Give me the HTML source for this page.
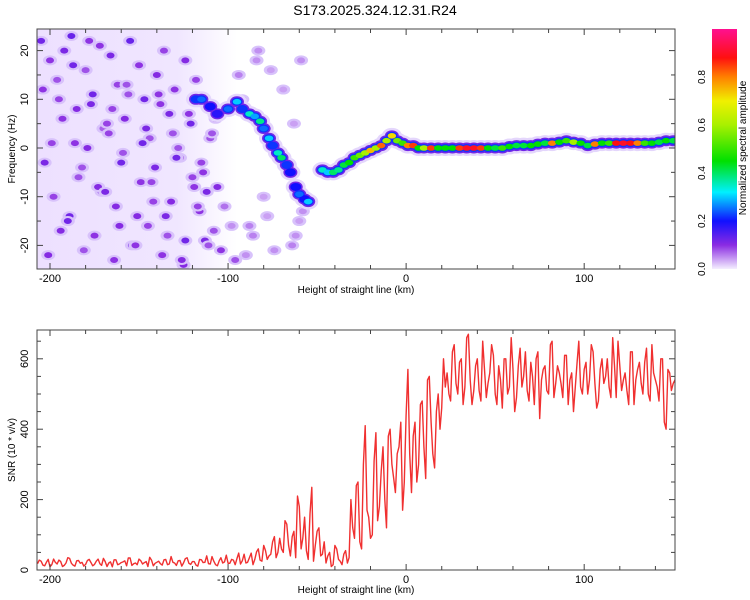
<!DOCTYPE html>
<html><head><meta charset="utf-8"><style>
body{margin:0;background:#fff;}
svg{display:block;font-family:"Liberation Sans",sans-serif;}
text{fill:#000;}
</style></head><body>
<svg id="root" width="750" height="600" xmlns="http://www.w3.org/2000/svg">
<defs>
<linearGradient id="cbar" x1="0" y1="1" x2="0" y2="0">
<stop offset="0" stop-color="#f4eeff"/><stop offset="0.1" stop-color="#8a2be2"/><stop offset="0.2" stop-color="#1010ff"/><stop offset="0.32" stop-color="#00f0ff"/><stop offset="0.45" stop-color="#00e000"/><stop offset="0.6" stop-color="#a8f000"/><stop offset="0.7" stop-color="#f0f000"/><stop offset="0.8" stop-color="#ff8000"/><stop offset="0.88" stop-color="#ff1010"/><stop offset="1" stop-color="#ff1090"/>
</linearGradient>
<linearGradient id="noiseBg" x1="0" y1="0" x2="1" y2="0">
<stop offset="0" stop-color="#ede0ff"/><stop offset="0.7" stop-color="#f0e6ff"/><stop offset="1" stop-color="#ffffff"/>
</linearGradient>
<clipPath id="clipTop"><rect x="37" y="29" width="638" height="240"/></clipPath>
<clipPath id="clipBot"><rect x="37" y="330" width="638" height="240"/></clipPath>
</defs>
<text x="375" y="15" text-anchor="middle" font-size="14">S173.2025.324.12.31.R24</text>
<g id="topPanel"></g>
<g id="botPanel"></g>
<g id="cb"></g>
</svg>
<script>
// ---- data ----
const ridgeX = [-118,-115,-110,-106,-100,-95,-92,-88,-85,-82,-80,-77,-75,-72,-70,-67,-65,-62,-60,-57,-55,-47,-44,-41,-38,-35,-32,-29,-26,-23,-20,-17,-14,-11,-8,-5,-2,1,4,7,10,14,18,22,26,30,34,38,42,46,50,54,58,62,66,70,74,78,82,86,90,94,98,102,106,110,114,118,122,126,130,134,138,142,146,150];
const ridgeF = [10,10,8.5,7,8,9.5,8,7,6.5,5.5,4,2,0.5,-1,-2,-3.5,-5,-8,-9.5,-10.5,-11,-4.5,-5,-5,-4.5,-3.5,-3,-2,-1.5,-1,-0.5,0,0.5,1.5,2.5,1.5,1,0.5,0.5,0,0,0,0,0,0,0,0,0,0,0,0,0,0.3,0.5,0.5,0.5,0.8,1,1,1.2,1.5,1.2,1,0.5,0.8,1,1,1,1,1,1,1,1,1.2,1.5,1.5];
const ridgeA = [0.22,0.25,0.2,0.18,0.25,0.3,0.22,0.35,0.28,0.38,0.25,0.3,0.22,0.35,0.4,0.22,0.2,0.2,0.25,0.2,0.3,0.35,0.3,0.4,0.38,0.42,0.45,0.5,0.55,0.6,0.75,0.6,0.82,0.6,0.72,0.55,0.5,0.8,0.85,0.45,0.6,0.85,0.45,0.45,0.45,0.85,0.9,0.9,0.85,0.45,0.42,0.5,0.45,0.42,0.42,0.45,0.45,0.42,0.8,0.45,0.5,0.6,0.45,0.42,0.8,0.45,0.5,0.88,0.9,0.88,0.8,0.5,0.45,0.42,0.45,0.42];
const blobX = [-205,-200,-196,-192,-188,-185,-180,-176,-172,-170,-166,-162,-158,-155,-150,-147,-144,-140,-136,-133,-130,-127,-124,-121,-118,-114,-110,-106,-203,-198,-193,-189,-184,-179,-175,-171,-167,-163,-159,-154,-149,-145,-141,-137,-132,-128,-124,-120,-116,-112,-108,-104,-201,-195,-190,-186,-181,-177,-173,-168,-164,-160,-156,-151,-146,-142,-138,-134,-129,-125,-122,-117,-113,-109,-204,-199,-194,-187,-182,-178,-169,-165,-161,-157,-152,-148,-143,-139,-135,-131,-126,-119,-115,-111,-107,-102,-98,-94,-90,-86,-83,-78,-74,-69,-64,-62,-60,-58,-63,-59,-96,-92,-88,-84,-80,-76];
const blobF = [22,18,14,20,23,8,16,11,21,4,19,13,6,22,17,10,2,15,20,7,12,-2,18,5,14,-5,2,-8,-3,-10,6,-14,-6,0,-18,-9,3,-12,-1,-20,-7,-16,-4,-22,-11,0,-19,-6,-13,-9,-17,-21,-22,10,-15,1,-21,9,-8,5,-23,-3,11,-14,4,-11,9,-18,-2,-24,7,-12,-19,3,12,1,-17,17,-4,22,-9,8,-16,13,-20,1,-7,11,-14,3,-23,-8,-3,-20,6,-12,-16,15,-22,-18,20,-14,-21,12,-20,-18,-15,-13,5,18,-23,10,-16,18,-10,16,-19,22];
const blobA = [0.15,0.12,0.1,0.14,0.16,0.13,0.1,0.15,0.12,0.09,0.14,0.11,0.13,0.16,0.12,0.15,0.1,0.13,0.11,0.14,0.12,0.1,0.13,0.15,0.11,0.12,0.1,0.13,0.14,0.11,0.12,0.15,0.1,0.13,0.12,0.14,0.11,0.13,0.1,0.15,0.12,0.11,0.14,0.12,0.13,0.1,0.15,0.11,0.12,0.14,0.1,0.12,0.13,0.11,0.15,0.12,0.1,0.14,0.13,0.11,0.12,0.15,0.1,0.13,0.14,0.11,0.12,0.1,0.15,0.13,0.12,0.11,0.14,0.1,0.12,0.11,0.13,0.15,0.1,0.12,0.14,0.11,0.13,0.1,0.12,0.15,0.11,0.12,0.14,0.1,0.13,0.12,0.11,0.1,0.12,0.08,0.06,0.07,0.06,0.07,0.06,0.05,0.06,0.05,0.07,0.06,0.05,0.06,0.05,0.06,0.1,0.08,0.07,0.06,0.05,0.05];
const snrStart = -207, snrStep = 2;
// SNR at even offsets (-207, -205, ...)
const snrValuesA = [18,25,12,30,15,22,28,10,20,33,14,26,19,11,27,21,16,31,13,24,20,9,29,17,23,12,34,18,15,26,21,10,28,19,25,14,30,17,22,13,27,20,35,16,24,11,29,22,18,38,15,26,20,42,19,28,33,17,45,
22,48,30,60,25,55,40,80,35,
90,50,130,40,110,210,60,150,30,235,70,120,45,
20,50,15,60,25,45,20,
200,90,250,60,410,150,100,390,
180,350,120,400,260,330,420,250,570,
220,420,300,480,260,550,330,450,400,600,
560,480,640,500,600,520,670,470,580,510,650,490,560,610,470,540,600,500,660,450,580,520,620,480,550,600,430,570,510,640,490,580,530,610,470,560,520,650,500,590,540,620,460,570,530,600,490,580,650,510,560,470,620,540,590,500,630,480,560,520,600,420,570,510,540];
// SNR at odd offsets (-206, -204, ...)
const snrValuesB = [28,14,22,9,31,17,24,13,35,19,11,27,22,16,30,12,25,18,33,10,23,29,15,21,26,34,13,20,31,17,24,36,12,22,18,29,15,38,20,26,11,32,19,24,14,30,21,40,17,25,12,35,23,19,30,15,48,26,20,
35,15,52,28,70,30,45,95,50,
60,140,70,95,35,180,90,55,160,25,110,40,80,
40,10,70,30,15,55,35,
120,240,80,300,170,90,310,140,
280,200,380,300,220,350,170,440,330,
380,250,470,350,540,420,290,500,460,520,
500,620,530,590,470,660,540,510,600,480,570,530,640,500,580,460,600,520,570,490,630,550,510,590,470,620,540,580,500,650,530,560,490,610,540,450,590,520,570,500,640,530,480,600,550,520,660,490,580,540,510,620,470,570,530,590,500,640,540,480,600,400,560,530,580];
const xTicks = [-200,-100,0,100];
const fTicks = [20,10,0,-10,-20];
const snrTicks = [0,200,400,600];
const cbTicks = [0,0.2,0.4,0.6,0.8];

// ---- scales ----
const X0=37,X1=675, xMin=-207.3, xMax=151;
const xs = v => X0 + (v-xMin)/(xMax-xMin)*(X1-X0);
const fy = f => 148 - f*4.87;
const sy = s => 570 - s*0.352;
const NS="http://www.w3.org/2000/svg";
function mk(tag, attrs, parent){const e=document.createElementNS(NS,tag);for(const k in attrs)e.setAttribute(k,attrs[k]);parent.appendChild(e);return e;}
const stops=[[0,[244,238,255]],[0.1,[138,43,226]],[0.2,[16,16,255]],[0.32,[0,240,255]],[0.45,[0,224,0]],[0.6,[168,240,0]],[0.7,[240,240,0]],[0.8,[255,128,0]],[0.88,[255,16,16]],[1,[255,16,144]]];
function cmap(a){for(let i=1;i<stops.length;i++){if(a<=stops[i][0]){const t=(a-stops[i-1][0])/(stops[i][0]-stops[i-1][0]);const c=stops[i-1][1].map((v,j)=>Math.round(v+(stops[i][1][j]-v)*t));return `rgb(${c})`;}}return 'rgb(255,16,144)';}

// ---- top panel ----
const topG=document.getElementById('topPanel');
const plotT=mk('g',{'clip-path':'url(#clipTop)'},topG);


mk('rect',{x:xs(-207),y:29,width:xs(-95)-xs(-207),height:240,fill:'url(#noiseBg)'},plotT);
for(let i=0;i<blobX.length;i++){
  const e=mk('ellipse',{cx:xs(blobX[i]),cy:fy(blobF[i]),rx:7,ry:5,fill:'#d8c2fb'},plotT);
  
  
  const c=mk('ellipse',{cx:xs(blobX[i]),cy:fy(blobF[i]),rx:4,ry:3,fill:cmap(blobA[i]*0.8)},plotT);
  
  
}
const layers=[['halo',10,8],['outer',7,5.5],['mid',5.5,4],['core',4.2,2.8]];
layers.forEach(([k,rx,ry])=>{
  for(let i=0;i<ridgeX.length;i++){
    const a=ridgeA[i];
    const fill = k==='halo' ? '#e4d6fc' : k==='outer' ? cmap(0.12) : k==='mid' ? cmap(Math.min(a,0.22)) : cmap(a);
    const e=mk('ellipse',{cx:xs(ridgeX[i]),cy:fy(ridgeF[i]),rx:rx,ry:ry,fill:fill},plotT);
    
    
  }
});
mk('rect',{x:37,y:29,width:638,height:240,fill:'none',stroke:'#444',"stroke-width":1},topG);
xTicks.forEach(t=>{const x=xs(t);
  const l=mk('text',{x:x,y:282,'text-anchor':'middle','font-size':11},topG);l.textContent=t;
  });
for(let t=-200;t<=150;t+=20){const x=xs(t);const L=(t%100===0)?6:4;
  mk('line',{x1:x,x2:x,y1:269,y2:269-L,stroke:'#444'},topG);mk('line',{x1:x,x2:x,y1:29,y2:29+L,stroke:'#444'},topG);}
fTicks.forEach(t=>{const y=fy(t);
  const l=mk('text',{x:0,y:0,'text-anchor':'middle','font-size':11,transform:`translate(28,${y}) rotate(-90)`},topG);l.textContent=t;
  });
for(let t=-20;t<=20;t+=5){const y=fy(t);const L=(t%10===0)?6:4;
  mk('line',{x1:37,x2:37+L,y1:y,y2:y,stroke:'#444'},topG);mk('line',{x1:675,x2:675-L,y1:y,y2:y,stroke:'#444'},topG);}
let t1=mk('text',{x:356,y:293,'text-anchor':'middle','font-size':10},topG);t1.textContent='Height of straight line (km)';

let t2=mk('text',{x:0,y:0,'text-anchor':'middle','font-size':10,transform:'translate(15,149) rotate(-90)'},topG);t2.textContent='Frequency (Hz)';


// ---- colorbar ----
const cb=document.getElementById('cb');
mk('rect',{x:712,y:29,width:25,height:240,fill:'url(#cbar)'},cb);
cbTicks.forEach(t=>{const y=269-t*240;
  const l=mk('text',{x:0,y:0,'text-anchor':'middle','font-size':10,transform:`translate(705,${y}) rotate(-90)`},cb);l.textContent=t.toFixed(1);
  });
let t3=mk('text',{x:0,y:0,'text-anchor':'middle','font-size':10,transform:'translate(746,148) rotate(-90)'},cb);t3.textContent='Normalized spectral amplitude';


// ---- bottom panel ----
const botG=document.getElementById('botPanel');
const plotB=mk('g',{'clip-path':'url(#clipBot)'},botG);
const merged=[];
for(let i=0;i<snrValuesA.length;i++){
  merged.push(`${xs(snrStart+i*snrStep).toFixed(1)},${sy(snrValuesA[i]).toFixed(1)}`);
  merged.push(`${xs(snrStart+1+i*snrStep).toFixed(1)},${sy(snrValuesB[i]).toFixed(1)}`);
}
const pl=mk('polyline',{points:merged.join(' '),fill:'none',stroke:'#f03030','stroke-width':1.4,'stroke-linejoin':'round'},plotB);


mk('rect',{x:37,y:330,width:638,height:240,fill:'none',stroke:'#444'},botG);
xTicks.forEach(t=>{const x=xs(t);
  const l=mk('text',{x:x,y:583,'text-anchor':'middle','font-size':11},botG);l.textContent=t;
  });
for(let t=-200;t<=150;t+=20){const x=xs(t);const L=(t%100===0)?6:4;
  mk('line',{x1:x,x2:x,y1:570,y2:570-L,stroke:'#444'},botG);mk('line',{x1:x,x2:x,y1:330,y2:330+L,stroke:'#444'},botG);}
snrTicks.forEach(t=>{const y=sy(t);
  const l=mk('text',{x:0,y:0,'text-anchor':'middle','font-size':11,transform:`translate(28,${y}) rotate(-90)`},botG);l.textContent=t;
  });
for(let t=0;t<=650;t+=50){const y=sy(t);const L=(t%200===0)?6:4;
  mk('line',{x1:37,x2:37+L,y1:y,y2:y,stroke:'#444'},botG);mk('line',{x1:675,x2:675-L,y1:y,y2:y,stroke:'#444'},botG);}
let t4=mk('text',{x:356,y:593,'text-anchor':'middle','font-size':10},botG);t4.textContent='Height of straight line (km)';

let t5=mk('text',{x:0,y:0,'text-anchor':'middle','font-size':10,transform:'translate(15,450) rotate(-90)'},botG);t5.textContent='SNR (10 * v/v)';

</script>
</body></html>
